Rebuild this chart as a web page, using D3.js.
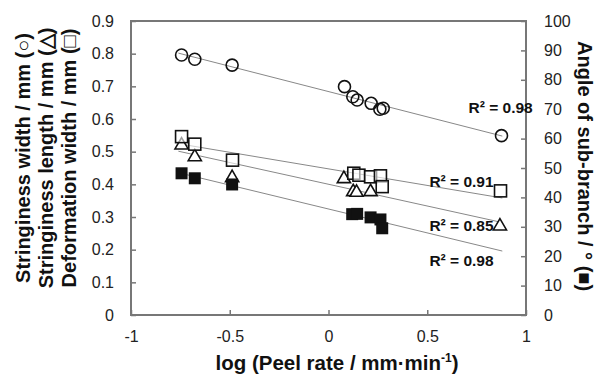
<!DOCTYPE html>
<html>
<head>
<meta charset="utf-8">
<script src="https://cdn.jsdelivr.net/npm/d3@7"></script>
<style>
  body { margin: 0; background: #fff; }
  text { font-family: "Liberation Sans", Arial, sans-serif; }
</style>
</head>
<body>
<div id="chart"></div>
<script>
// data
var circleX = [-0.744, -0.677, -0.488, 0.081, 0.123, 0.145, 0.216, 0.260, 0.277, 0.876]
var circleY = [0.796, 0.783, 0.765, 0.699, 0.668, 0.658, 0.648, 0.630, 0.633, 0.549]

var squareX = [-0.744, -0.677, -0.486, 0.128, 0.154, 0.213, 0.263, 0.272, 0.871]
var squareY = [0.546, 0.523, 0.474, 0.434, 0.428, 0.423, 0.426, 0.393, 0.380]

var triX = [-0.744, -0.677, -0.488, 0.078, 0.125, 0.142, 0.213, 0.868]
var triY = [0.523, 0.487, 0.423, 0.420, 0.380, 0.378, 0.380, 0.275]

var angleX = [-0.744, -0.677, -0.488, 0.120, 0.145, 0.213, 0.263, 0.272]
var angleY = [48.2, 46.5, 44.4, 34.3, 34.4, 33.2, 32.5, 29.5]

var xTicks = [-1, -0.5, 0, 0.5, 1]
var yTicks = [0, 0.1, 0.2, 0.3, 0.4, 0.5, 0.6, 0.7, 0.8, 0.9]
var y2Ticks = [0, 10, 20, 30, 40, 50, 60, 70, 80, 90, 100]
var r2Labels = ["R² = 0.98", "R² = 0.91", "R² = 0.85", "R² = 0.98"]

var width = 597,
    height = 375,
    margin = {top: 21, right: 71, bottom: 60, left: 131}

var svg = d3.select("#chart")
  .append("svg")
    .attr("width", width)
    .attr("height", height)

var x = d3.scaleLinear().domain([-1, 1]).range([margin.left, width - margin.right])
var y = d3.scaleLinear().domain([0, 0.9]).range([height - margin.bottom, margin.top])
var y2 = d3.scaleLinear().domain([0, 100]).range([height - margin.bottom, margin.top])

var axisColor = "#777"

// axes, ticks pointing inward
svg.append("g")
  .attr("transform", "translate(0," + (height - margin.bottom) + ")")
  .call(d3.axisBottom(x).tickValues(xTicks).tickSizeInner(-5).tickSizeOuter(0).tickPadding(16)
    .tickFormat(function(d) { return d === 0 ? "0" : String(d) }))
svg.append("g")
  .attr("transform", "translate(" + margin.left + ",0)")
  .call(d3.axisLeft(y).tickValues(yTicks).tickSizeInner(-5).tickSizeOuter(0).tickPadding(17)
    .tickFormat(function(d) { return d === 0 ? "0" : d3.format(".1f")(d) }))
svg.append("g")
  .attr("transform", "translate(" + (width - margin.right) + ",0)")
  .call(d3.axisRight(y2).tickValues(y2Ticks).tickSizeInner(-5).tickSizeOuter(0).tickPadding(18))

svg.selectAll(".tick text").attr("font-size", 16).attr("fill", "#222")
svg.selectAll(".tick line").attr("stroke", axisColor).attr("stroke-width", 1.5)
svg.selectAll(".domain").remove()

// frame
svg.append("rect")
  .attr("x", margin.left)
  .attr("y", margin.top)
  .attr("width", x(1) - x(-1))
  .attr("height", y(0) - y(0.9))
  .attr("fill", "none")
  .attr("stroke", axisColor)
  .attr("stroke-width", 2)

// linear fits
function fit(xs, ys) {
  var mx = d3.mean(xs), my = d3.mean(ys)
  var sxy = d3.sum(xs, function(v, i) { return (v - mx) * (ys[i] - my) })
  var sxx = d3.sum(xs, function(v) { return (v - mx) * (v - mx) })
  var b = sxy / sxx
  return function(v) { return my + b * (v - mx) }
}

var lineX = [-0.76, 0.88]
var fits = [
  {f: fit(circleX, circleY), s: y},
  {f: fit(squareX, squareY), s: y},
  {f: fit(triX, triY), s: y},
  {f: fit(angleX, angleY), s: y2}
]
svg.selectAll("line.fit")
  .data(fits)
  .enter()
  .append("line")
    .attr("x1", x(lineX[0]))
    .attr("x2", x(lineX[1]))
    .attr("y1", function(d) { return d.s(d.f(lineX[0])) })
    .attr("y2", function(d) { return d.s(d.f(lineX[1])) })
    .attr("stroke", "#888")
    .attr("stroke-width", 1)

// markers
function pts(xs, ys) { return xs.map(function(v, i) { return [v, ys[i]] }) }

svg.selectAll("path.tri")
  .data(pts(triX, triY))
  .enter()
  .append("path")
    .attr("d", d3.symbol().type(d3.symbolTriangle).size(75))
    .attr("transform", function(d) { return "translate(" + x(d[0]) + "," + (y(d[1]) + 1) + ")" })
    .attr("fill", "#fff")
    .attr("stroke", "#111")
    .attr("stroke-width", 1.6)

svg.selectAll("rect.fill")
  .data(pts(angleX, angleY))
  .enter()
  .append("rect")
    .attr("x", function(d) { return x(d[0]) - 6 })
    .attr("y", function(d) { return y2(d[1]) - 6 })
    .attr("width", 12)
    .attr("height", 12)
    .attr("fill", "#111")

svg.selectAll("rect.open")
  .data(pts(squareX, squareY))
  .enter()
  .append("rect")
    .attr("x", function(d) { return x(d[0]) - 6 })
    .attr("y", function(d) { return y(d[1]) - 6 })
    .attr("width", 12)
    .attr("height", 12)
    .attr("fill", "#fff")
    .attr("fill-opacity", 0.6)
    .attr("stroke", "#111")
    .attr("stroke-width", 1.6)

svg.selectAll("circle.c")
  .data(pts(circleX, circleY))
  .enter()
  .append("circle")
    .attr("cx", function(d) { return x(d[0]) })
    .attr("cy", function(d) { return y(d[1]) })
    .attr("r", 6)
    .attr("fill", "none")
    .attr("stroke", "#111")
    .attr("stroke-width", 1.6)

// R² labels
var r2Pos = [[0.709, 0.617], [0.511, 0.392], [0.511, 0.257], [0.511, 0.150]]
svg.selectAll("text.r2")
  .data(r2Labels)
  .enter()
  .append("text")
    .attr("x", function(d, i) { return x(r2Pos[i][0]) })
    .attr("y", function(d, i) { return y(r2Pos[i][1]) })
    .attr("font-size", 15.5)
    .attr("font-weight", "bold")
    .attr("fill", "#111")
    .text(function(d) { return d })

// axis titles
var xt = svg.append("text")
  .attr("x", 337)
  .attr("y", 370)
  .attr("text-anchor", "middle")
  .attr("font-size", 20.5)
  .attr("font-weight", "bold")
  .attr("fill", "#111")
xt.append("tspan").text("log (Peel rate / mm·min")
xt.append("tspan").attr("font-size", 12).attr("dy", -8).text("-1")
xt.append("tspan").attr("dy", 8).text(")")

var yTitles = ["Stringiness width / mm (○)", "Stringiness length / mm (△)", "Deformation width / mm (□)"]
svg.selectAll("text.yt")
  .data(yTitles)
  .enter()
  .append("text")
    .attr("transform", function(d, i) { return "translate(" + (30 + i * 23) + ",158) rotate(-90)" })
    .attr("text-anchor", "middle")
    .attr("font-size", 20)
    .attr("font-weight", "bold")
    .attr("fill", "#111")
    .text(function(d) { return d })

svg.append("text")
  .attr("transform", "translate(578,166) rotate(90)")
  .attr("text-anchor", "middle")
  .attr("font-size", 20)
  .attr("font-weight", "bold")
  .attr("fill", "#111")
  .text("Angle of sub-branch / ° (■)")
</script>
</body>
</html>
